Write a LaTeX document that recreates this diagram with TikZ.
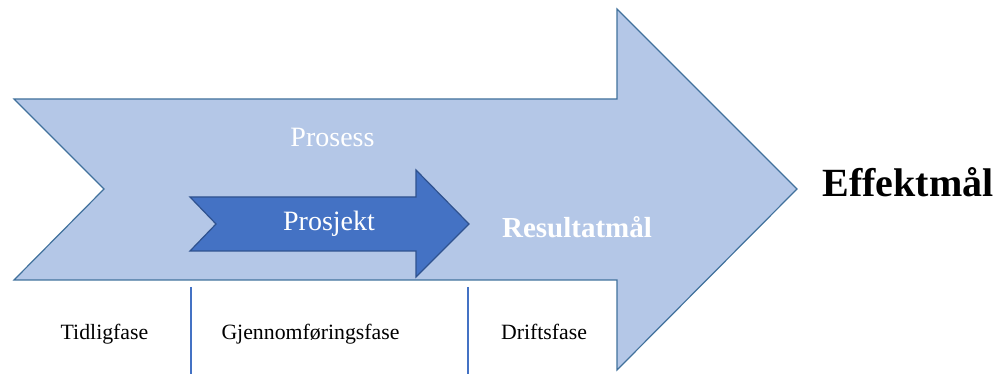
\documentclass[tikz,border=0pt]{standalone}
\usepackage{fontspec}
\setmainfont{Liberation Serif}
\definecolor{procfill}{HTML}{B4C7E7}
\definecolor{procline}{HTML}{41719C}
\definecolor{projfill}{HTML}{4472C4}
\definecolor{projline}{HTML}{2F528F}
\definecolor{phaseline}{HTML}{4472C4}
\tikzset{
  procarrow/.style={fill=procfill, draw=procline, line width=1.2pt, line join=miter},
  projarrow/.style={fill=projfill, draw=projline, line width=1.2pt, line join=miter},
  phasesep/.style={draw=phaseline, line width=1.2pt},
  whitelbl/.style={text=white, anchor=base, inner sep=0pt, font=\fontsize{28}{32}\selectfont},
  goallbl/.style={anchor=base, inner sep=0pt, font=\bfseries\fontsize{29}{34}\selectfont},
  phaselbl/.style={anchor=base, inner sep=0pt, font=\fontsize{21.8}{26}\selectfont},
}
\begin{document}
\begin{tikzpicture}[x=1pt,y=-1pt]
  \useasboundingbox (0,0) rectangle (997,374);

  % process chevron arrow
  \path[procarrow] (14,99) -- (617,99) -- (617,9) -- (797,189) -- (617,370)
    -- (617,280) -- (14,280) -- (104,189) -- cycle;

  % project chevron arrow
  \path[projarrow] (190,197) -- (416,197) -- (416,170) -- (469,224) -- (416,277)
    -- (416,251) -- (190,251) -- (216,224) -- cycle;

  % phase separators
  \coordinate (s1t) at (191,287);
  \coordinate (s1b) at (191,374);
  \coordinate (s2t) at (468,287);
  \coordinate (s2b) at (468,374);
  \draw[phasesep] (s1t) -- (s1b);
  \draw[phasesep] (s2t) -- (s2b);

  % labels
  \node[whitelbl] (prosess) at (332.5,147) {Prosess};
  \node[whitelbl] (prosjekt) at (329,231) {Prosjekt};
  \node[goallbl, text=white] (resultat) at (577,238) {Resultatmål};
  \node[goallbl, font=\bfseries\fontsize{40}{46}\selectfont] (effekt) at (908,197) {Effektmål};

  \node[phaselbl] (tidlig) at (104.5,340) {Tidligfase};
  \node[phaselbl] (gjennom) at (310.5,340) {Gjennomføringsfase};
  \node[phaselbl] (drift) at (544,340) {Driftsfase};
\end{tikzpicture}
\end{document}
